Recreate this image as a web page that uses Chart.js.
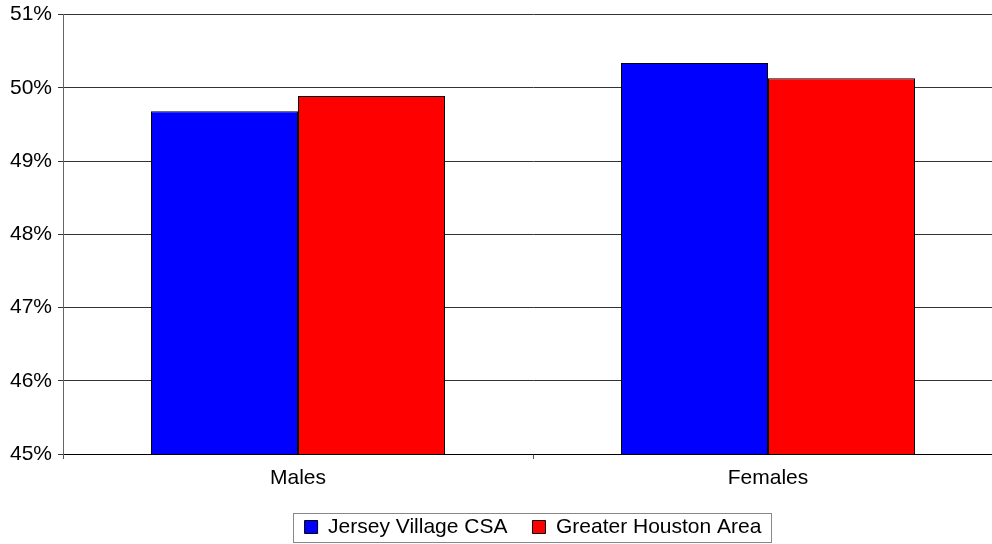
<!DOCTYPE html>
<html>
<head>
<meta charset="utf-8">
<script src="https://cdn.jsdelivr.net/npm/chart.js@4/dist/chart.umd.min.js"></script>
<style>
  html, body { margin: 0; padding: 0; background: #fff; overflow: hidden; }
  #wrap { width: 992px; height: 544px; overflow: hidden; }
  #genderChart { display: block; margin-top: -4px; }
</style>
</head>
<body>
<div id="wrap"><canvas id="genderChart" width="1066" height="554"></canvas></div>
<script>
const categories = ["Males", "Females"];
const jerseyVillage = [49.68, 50.34];
const greaterHouston = [49.89, 50.13];
const seriesNames = ["Jersey Village CSA", "Greater Houston Area"];
const yTicks = [45, 46, 47, 48, 49, 50, 51];

const fontFamily = "Arial, 'Liberation Sans', sans-serif";

// box around the legend, like the original spreadsheet chart
const legendBorder = {
  id: "legendBorder",
  afterDraw(chart) {
    const boxes = chart.legend.legendHitBoxes;
    if (!boxes || !boxes.length) return;
    let left = Infinity, right = -Infinity, top = Infinity, bottom = -Infinity;
    boxes.forEach(function (b) {
      left = Math.min(left, b.left);
      right = Math.max(right, b.left + b.width);
      top = Math.min(top, b.top);
      bottom = Math.max(bottom, b.top + b.height);
    });
    const ctx = chart.ctx;
    ctx.save();
    ctx.strokeStyle = "#888";
    ctx.lineWidth = 1;
    const x0 = Math.round(left - 12), x1 = Math.round(right + 10);
    const y0 = Math.round(top - 3.5), y1 = Math.round(bottom + 4.5);
    ctx.strokeRect(x0 + 0.5, y0 + 0.5, x1 - x0, y1 - y0);
    ctx.restore();
  }
};

const ctx = document.getElementById("genderChart").getContext("2d");
new Chart(ctx, {
  type: "bar",
  data: {
    labels: categories,
    datasets: [
      {
        label: seriesNames[0],
        data: jerseyVillage,
        backgroundColor: "#0000ff",
        borderColor: "#000",
        borderWidth: 1,
      },
      {
        label: seriesNames[1],
        data: greaterHouston,
        backgroundColor: "#ff0000",
        borderColor: "#000",
        borderWidth: 1,
      },
    ],
  },
  options: {
    responsive: false,
    animation: false,
    events: [],
    layout: { padding: { top: 10, left: 0, right: 63, bottom: 2.5 } },
    datasets: {
      bar: { categoryPercentage: 0.6255, barPercentage: 1.0 },
    },
    plugins: {
      tooltip: { enabled: false },
      legend: {
        position: "bottom",
        fullSize: false,
        labels: {
          color: "#000",
          font: { family: fontFamily, size: 21 },
          boxWidth: 13,
          boxHeight: 13,
          padding: 25,
        },
      },
    },
    scales: {
      x: {
        afterFit(scale) { scale.height = 37.5; },
        grid: {
          display: true,
          drawOnChartArea: false,
          drawTicks: true,
          tickLength: 5,
          color: "#555",
        },
        border: { display: true, color: "#000", width: 1 },
        ticks: {
          color: "#000",
          padding: 7,
          font: { family: fontFamily, size: 21 },
        },
      },
      y: {
        min: yTicks[0],
        max: yTicks[yTicks.length - 1],
        afterFit(scale) { scale.width = 63; },
        afterBuildTicks(scale) {
          scale.ticks = yTicks.map(function (v) { return { value: v }; });
        },
        grid: { color: "#333", tickLength: 5 },
        border: { display: true, color: "#666", width: 1 },
        ticks: {
          color: "#000",
          padding: 6,
          font: { family: fontFamily, size: 21 },
          callback: function (v) { return v + "%"; },
        },
      },
    },
  },
  plugins: [legendBorder],
});
</script>
</body>
</html>
